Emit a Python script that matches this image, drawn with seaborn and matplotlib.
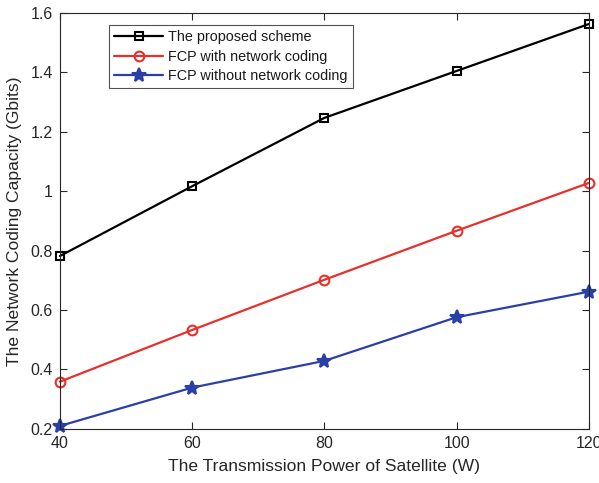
import matplotlib
matplotlib.use("Agg")
import matplotlib.pyplot as plt
import seaborn as sns
import pandas as pd

power = [40, 60, 80, 100, 120]
proposed = [0.782, 1.017, 1.247, 1.405, 1.563]
fcp_nc = [0.359, 0.533, 0.702, 0.867, 1.028]
fcp_no_nc = [0.210, 0.339, 0.429, 0.576, 0.662]
series_names = ["The proposed scheme", "FCP with network coding", "FCP without network coding"]
yticks = [0.2, 0.4, 0.6, 0.8, 1.0, 1.2, 1.4, 1.6]
ytick_labels = ["0.2", "0.4", "0.6", "0.8", "1", "1.2", "1.4", "1.6"]
xticks = [40, 60, 80, 100, 120]

sns.set_theme(style="white")
plt.rcParams['font.family'] = ['Liberation Sans', 'DejaVu Sans']

df = pd.DataFrame({
    "power": power * 3,
    "value": proposed + fcp_nc + fcp_no_nc,
    "series": sum([[n] * len(power) for n in series_names], []),
})

fig = plt.figure(figsize=(5.99, 4.83), dpi=100)
ax = fig.add_axes([0.1, 0.112, 0.883, 0.861])

colors = ["#000000", "#e8302a", "#2b3fa8"]
markers = ["s", "o", "*"]
msizes = [5.5, 7, 10.5]
for name, c, m, ms in zip(series_names, colors, markers, msizes):
    sub = df[df["series"] == name]
    mfc = c if m == "*" else "none"
    sns.lineplot(data=sub, x="power", y="value", ax=ax, color=c, marker=m,
                 markersize=ms, markerfacecolor=mfc, markeredgecolor=c,
                 markeredgewidth=1.5, linewidth=1.6, label=name, clip_on=False)

ax.set_xlim(40, 120)
ax.set_ylim(0.2, 1.6)
ax.set_xticks(xticks)
ax.set_xticklabels([str(x) for x in xticks])
ax.set_yticks(yticks)
ax.set_yticklabels(ytick_labels)
ax.tick_params(direction="in", length=5, width=0.8, colors="#262626",
               labelsize=11.5, top=True, right=True, bottom=True, left=True, pad=5)
for s in ax.spines.values():
    s.set_color("#262626")
    s.set_linewidth(0.8)
ax.set_xlabel("The Transmission Power of Satellite (W)", fontsize=12.6, color="#262626", labelpad=6)
ax.set_ylabel("The Network Coding Capacity (Gbits)", fontsize=12.6, color="#262626", labelpad=6)

leg = ax.legend(loc="upper left", bbox_to_anchor=(0.093, 0.971), fontsize=10.4,
                frameon=True, fancybox=False, edgecolor="#262626",
                borderpad=0.35, labelspacing=0.38, handlelength=3.4, handletextpad=0.35,
                borderaxespad=0)
leg.get_frame().set_linewidth(0.8)
for t in leg.get_texts():
    t.set_color("#1a1a1a")

fig.savefig("out.png", dpi=100)
